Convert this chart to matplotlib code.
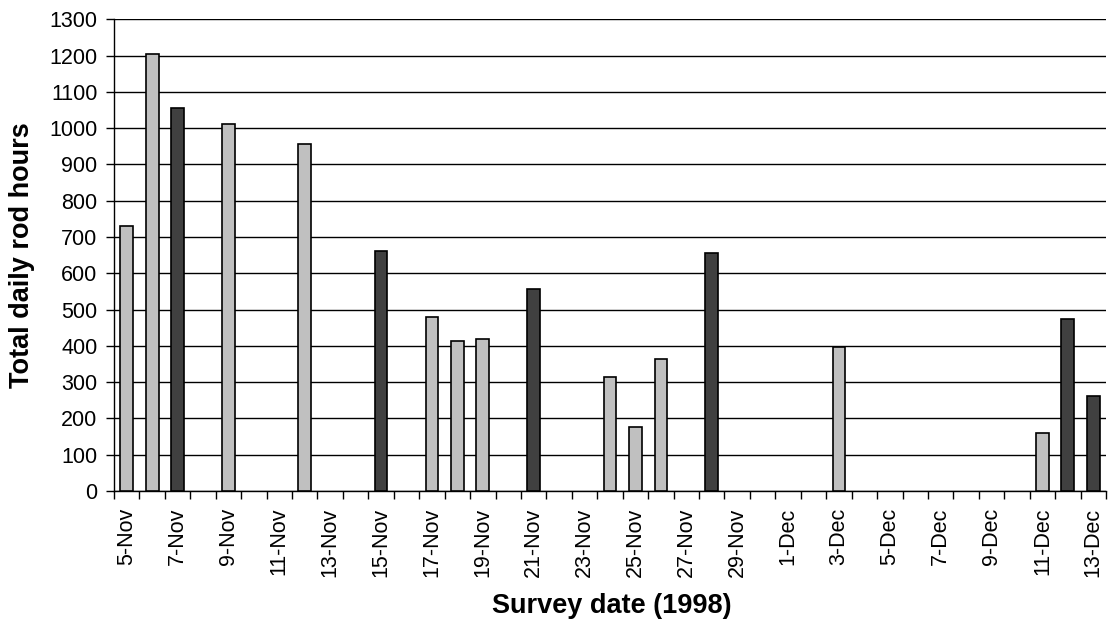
import pandas as pd
import numpy as np
import matplotlib
matplotlib.use("Agg")
import matplotlib.pyplot as plt

# === Data ===
first_day = "1998-11-05"
last_day = "1998-12-13"

weekday_dates = ["1998-11-05", "1998-11-06", "1998-11-09", "1998-11-12",
                 "1998-11-17", "1998-11-18", "1998-11-19", "1998-11-24",
                 "1998-11-25", "1998-11-26", "1998-12-03", "1998-12-11"]
weekday_hours = [731, 1205, 1012, 957, 479, 413, 419, 314, 176, 363, 397, 160]

weekend_dates = ["1998-11-07", "1998-11-15", "1998-11-21", "1998-11-28",
                 "1998-12-12", "1998-12-13"]
weekend_hours = [1056, 661, 556, 655, 474, 263]

# === Category axis: one slot per day ===
days = pd.date_range(first_day, last_day, freq="D")
day_labels = [f"{d.day}-{d.strftime('%b')}" for d in days]
start = pd.Timestamp(first_day)

def slot(dates):
    return np.array([(pd.Timestamp(d) - start).days for d in dates])

plt.rcParams['font.family'] = ['Liberation Sans', 'DejaVu Sans']

fig = plt.figure(figsize=(11.12, 6.22), dpi=100)
ax = fig.add_axes([114 / 1112, 1 - 491 / 622, 992 / 1112, (491 - 19.3) / 622])

bar_w = 0.5
ax.bar(slot(weekday_dates), weekday_hours, width=bar_w, color="#C0C0C0",
       edgecolor="black", linewidth=1.2, zorder=3)
ax.bar(slot(weekend_dates), weekend_hours, width=bar_w, color="#404040",
       edgecolor="black", linewidth=1.2, zorder=3)

ax.set_xlim(-0.5, len(days) - 0.5)
ax.set_ylim(0, 1300)
ax.set_yticks(np.arange(0, 1301, 100))
ax.yaxis.grid(True, color="black", linewidth=1.0, zorder=0)
ax.set_axisbelow(True)

# labels on every second day, tick marks between days
ax.set_xticks(np.arange(0, len(days), 2))
ax.set_xticklabels(day_labels[::2], rotation=90)
ax.set_xticks(np.arange(-0.5, len(days), 1), minor=True)
ax.tick_params(axis="x", which="major", length=0, pad=12, labelsize=15.5)
ax.tick_params(axis="x", which="minor", length=6, width=1, direction="out")
ax.tick_params(axis="y", length=6, width=1, pad=6, labelsize=15.5)

for side in ("top", "right"):
    ax.spines[side].set_visible(False)
for side in ("left", "bottom"):
    ax.spines[side].set_linewidth(1.0)

fig.text(22 / 1112, 1 - 255 / 622, "Total daily rod hours", rotation=90,
         ha="center", va="center", fontsize=19.5, fontweight="bold")
fig.text(612 / 1112, 1 - 606 / 622, "Survey date (1998)",
         ha="center", va="center", fontsize=19.5, fontweight="bold")

fig.savefig("out.png", dpi=100)
